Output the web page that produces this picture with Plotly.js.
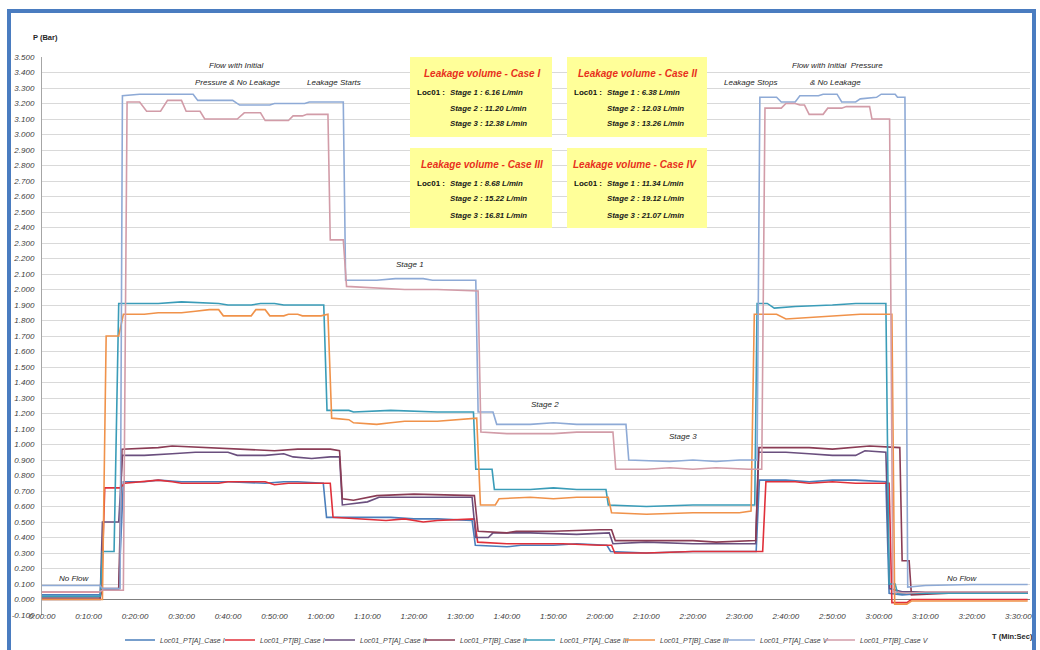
<!DOCTYPE html>
<html>
<head>
<meta charset="utf-8">
<script src="https://cdn.plot.ly/plotly-3.0.1.min.js"></script>
<style>
  html, body { margin: 0; padding: 0; background: #ffffff; overflow: hidden; }
  #chart { width: 1040px; height: 650px; }
  #frame { position: absolute; left: 7px; top: 9px; width: 1021px; height: 700px;
           border: 4px solid #4a7cc0; pointer-events: none; }
</style>
</head>
<body>
<div id="chart"></div>
<div id="frame"></div>
<script>
// ---- time axis (minutes) tick labels ----
const xTickVals = [0,10,20,30,40,50,60,70,80,90,100,110,120,130,140,150,160,170,180,190,200,210];
const xTickText = ["0:00:00","0:10:00","0:20:00","0:30:00","0:40:00","0:50:00","1:00:00","1:10:00","1:20:00","1:30:00","1:40:00","1:50:00","2:00:00","2:10:00","2:20:00","2:30:00","2:40:00","2:50:00","3:00:00","3:10:00","3:20:00","3:30:00"];
const yTickVals = [-0.1,0,0.1,0.2,0.3,0.4,0.5,0.6,0.7,0.8,0.9,1.0,1.1,1.2,1.3,1.4,1.5,1.6,1.7,1.8,1.9,2.0,2.1,2.2,2.3,2.4,2.5,2.6,2.7,2.8,2.9,3.0,3.1,3.2,3.3,3.4,3.5];
const yTickText = ["-0.100","0.000","0.100","0.200","0.300","0.400","0.500","0.600","0.700","0.800","0.900","1.000","1.100","1.200","1.300","1.400","1.500","1.600","1.700","1.800","1.900","2.000","2.100","2.200","2.300","2.400","2.500","2.600","2.700","2.800","2.900","3.000","3.100","3.200","3.300","3.400","3.500"];

// ---- series names ----
const seriesNames = ["Loc01_PT[A]_Case I","Loc01_PT[B]_Case I","Loc01_PT[A]_Case II","Loc01_PT[B]_Case II","Loc01_PT[A]_Case III","Loc01_PT[B]_Case III","Loc01_PT[A]_Case V","Loc01_PT[B]_Case V"];

// ---- Case I ----
const caseI_A_t = [0,12.5,13,16.5,17.5,22,25,30,35,40,48,52,55,60.5,61.2,70,75,80,85,92.5,93.2,100,103,110,115,121.5,122.3,130,140,150,153.6,154.3,160,165,170,175,181.5,182.2,185,190,212];
const caseI_A_p = [0.03,0.03,0.06,0.07,0.76,0.76,0.77,0.76,0.76,0.76,0.75,0.76,0.76,0.75,0.53,0.53,0.53,0.52,0.52,0.51,0.35,0.34,0.35,0.35,0.36,0.35,0.31,0.30,0.31,0.31,0.31,0.77,0.77,0.76,0.77,0.77,0.76,0.04,0.03,0.04,0.04];
const caseI_B_t = [0,12.8,13.5,16.8,17.8,22,25,28,30,38,40,48,50,53,58,62,62.6,70,74,78,82,85,93,93.7,100,105,112,120,122.5,123.2,130,140,150,155,155.7,162,165,170,175,182.2,182.8,186,187,212];
const caseI_B_p = [0.05,0.05,0.72,0.72,0.75,0.76,0.77,0.76,0.75,0.75,0.76,0.76,0.74,0.75,0.75,0.75,0.53,0.52,0.51,0.52,0.50,0.51,0.52,0.37,0.36,0.36,0.36,0.35,0.35,0.30,0.30,0.31,0.31,0.31,0.76,0.76,0.75,0.76,0.75,0.75,-0.02,-0.02,0.0,0.0];

// ---- Case II ----
const caseII_A_t = [0,12.5,13,16.5,17.3,22,28,33,40,42,48,52,54,58,62,64,64.6,70,72.5,80,90,92.5,93.3,96,97,105,115,120,122,122.8,130,140,150,153.5,154.1,160,165,170,175,177,181.5,182.3,185,190,212];
const caseII_A_p = [0.0,0.0,0.5,0.5,0.93,0.93,0.94,0.95,0.95,0.93,0.93,0.94,0.92,0.91,0.92,0.92,0.61,0.63,0.66,0.66,0.66,0.66,0.40,0.40,0.43,0.43,0.42,0.43,0.43,0.36,0.37,0.36,0.36,0.36,0.95,0.95,0.94,0.93,0.93,0.96,0.95,0.07,0.05,0.05,0.05];
const caseII_B_t = [0,12.5,13,16.5,17.2,25,28,35,45,50,55,62,64,64.6,67,72,80,90,93,93.8,100,102,110,120,122.5,123.3,130,140,145,153.5,154.2,165,170,175,178,184.5,185,186.5,187,195,212];
const caseII_B_p = [0.01,0.01,0.07,0.07,0.97,0.98,0.99,0.98,0.97,0.96,0.97,0.97,0.96,0.65,0.64,0.67,0.68,0.67,0.67,0.44,0.43,0.44,0.44,0.45,0.45,0.38,0.38,0.38,0.37,0.38,0.98,0.98,0.97,0.98,0.99,0.98,0.25,0.25,0.03,0.04,0.04];

// ---- Case III ----
const caseIII_A_t = [0,12.5,13,15.5,16.5,25,30,38,40,45,47,50,52,60.6,61.3,66,67,75,85,92.8,93.3,96.8,97.3,105,110,115,121.3,121.8,130,140,150,153.3,153.8,156,157.5,162,170,175,181.5,182.2,183.5,184,190,212];
const caseIII_A_p = [0.02,0.02,0.31,0.31,1.91,1.91,1.92,1.91,1.90,1.90,1.91,1.91,1.90,1.90,1.22,1.22,1.21,1.22,1.21,1.21,0.84,0.84,0.71,0.71,0.72,0.71,0.71,0.61,0.60,0.61,0.61,0.61,1.91,1.91,1.88,1.89,1.90,1.91,1.91,0.10,0.10,0.04,0.04,0.04];
const caseIII_B_t = [0,13,13.8,16.5,17.5,22,25,30,33,36,38,39,45,46,48,49,52,53,55,56,60,61.5,62.3,66,67,72,75,78,85,90,93.5,94.3,97.5,98.3,105,110,115,121.8,122.5,130,140,150,152.5,153.2,158,160,165,170,176,182.8,183.4,186,187,212];
const caseIII_B_p = [0.0,0.0,1.70,1.70,1.84,1.84,1.85,1.85,1.86,1.87,1.87,1.83,1.83,1.87,1.87,1.83,1.83,1.84,1.84,1.83,1.83,1.84,1.17,1.16,1.14,1.13,1.14,1.15,1.15,1.16,1.17,0.61,0.61,0.65,0.66,0.65,0.66,0.66,0.56,0.55,0.56,0.56,0.57,1.84,1.84,1.81,1.82,1.83,1.84,1.84,-0.03,-0.03,-0.01,-0.01];

// ---- Case V ----
const caseV_A_t = [0,12.5,13,16.8,17.3,21,26,32.5,33.5,41,42.5,49,50,56.5,57.5,64.8,65.3,72,76,82,84,93.3,93.8,97,97.8,105,110,115,125.6,126.2,135,140,145,150,153.8,154.4,158,159,162,163,167,168,171,172,175,176,179.5,180.5,183.5,184,185.6,186.2,190,200,212];
const caseV_A_p = [0.09,0.09,0.07,0.07,3.25,3.26,3.26,3.26,3.22,3.22,3.19,3.19,3.20,3.20,3.21,3.21,2.06,2.06,2.07,2.07,2.06,2.06,1.21,1.21,1.13,1.13,1.14,1.13,1.13,0.90,0.89,0.90,0.89,0.90,0.90,3.24,3.24,3.21,3.21,3.25,3.25,3.26,3.26,3.21,3.21,3.23,3.24,3.26,3.26,3.24,3.24,0.08,0.09,0.097,0.097];
const caseV_B_t = [0,12.5,13,17.5,18.3,21,22.5,25.5,27,30,31,34,35,42,43.5,47,48,53,54,56,57,61.5,62,64.8,65.5,72,78,85,93.8,94.4,100,110,115,122.8,123.4,130,135,140,145,152,154.8,155.5,159,160,162,163,164,165,168,169,172,173,178,178.5,182.3,183,186,190,212];
const caseV_B_p = [0.05,0.05,0.06,0.06,3.21,3.21,3.15,3.15,3.22,3.22,3.15,3.15,3.10,3.10,3.14,3.14,3.09,3.09,3.12,3.12,3.13,3.13,2.32,2.32,2.02,2.01,2.00,2.00,1.99,1.08,1.07,1.07,1.08,1.08,0.84,0.84,0.85,0.84,0.85,0.84,0.84,3.17,3.17,3.20,3.20,3.19,3.19,3.13,3.13,3.17,3.17,3.18,3.18,3.10,3.10,0.05,0.04,0.05,0.05];

const seriesT = [caseI_A_t, caseI_B_t, caseII_A_t, caseII_B_t, caseIII_A_t, caseIII_B_t, caseV_A_t, caseV_B_t];
const seriesP = [caseI_A_p, caseI_B_p, caseII_A_p, caseII_B_p, caseIII_A_p, caseIII_B_p, caseV_A_p, caseV_B_p];
const seriesColors = ["#4a7ebb","#e0303a","#6a4f7e","#8a3c55","#3a9cb8","#f0924a","#8eaad6","#d29ca8"];

// ---- leakage boxes ----
const boxTitles = ["Leakage volume - Case I","Leakage volume - Case II","Leakage volume - Case III","Leakage volume - Case IV"];
const boxStage1 = ["Stage 1 : 6.16 L/min","Stage 1 : 6.38 L/min","Stage 1 : 8.68 L/min","Stage 1 : 11.34 L/min"];
const boxStage2 = ["Stage 2 : 11.20 L/min","Stage 2 : 12.03 L/min","Stage 2 : 15.22 L/min","Stage 2 : 19.12 L/min"];
const boxStage3 = ["Stage 3 : 12.38 L/min","Stage 3 : 13.26 L/min","Stage 3 : 16.81 L/min","Stage 3 : 21.07 L/min"];

// ---- layout helpers (pixel -> paper) ----
const L = 42, R = 10, T = 57, B = 35, W = 1040, H = 650;
const PW = W - L - R, PH = H - T - B;
const px = x => (x - L) / PW;
const py = y => (H - B - y) / PH;

const FONT = "Liberation Sans, Arial, sans-serif";
const legendFont = { family: FONT, size: 7, color: "#404040", style: "italic" };

const traces = seriesNames.map((n, i) => ({
  type: "scatter", mode: "lines", name: n,
  x: seriesT[i], y: seriesP[i],
  line: { color: seriesColors[i], width: 1.6 },
  legend: i === 0 ? "legend" : "legend" + (i + 1),
  hoverinfo: "skip"
}));

const shapes = [];
const annotations = [];
const boxX = [[410,552],[567,707],[410,552],[567,707]];
const boxY = [[57,137],[57,137],[148,228],[148,228]];
const titleCx = [482, 637, 482, 635];
for (let i = 0; i < 4; i++) {
  shapes.push({ type: "rect", xref: "paper", yref: "paper", layer: "above",
    x0: px(boxX[i][0]), x1: px(boxX[i][1]), y0: py(boxY[i][1]), y1: py(boxY[i][0]),
    fillcolor: "#ffff99", line: { width: 0 } });
  const top = boxY[i][0];
  annotations.push({ xref: "paper", yref: "paper", x: px(titleCx[i]), y: py(top + 16), text: boxTitles[i],
    showarrow: false, xanchor: "center", yanchor: "middle",
    font: { family: FONT, size: 10, color: "#e8301c", weight: "bold", style: "italic" } });
  annotations.push({ xref: "paper", yref: "paper", x: px(boxX[i][0] + 5), y: py(top + 35), text: "Loc01 :",
    showarrow: false, xanchor: "left", yanchor: "middle",
    font: { family: FONT, size: 8, color: "#111111", weight: "bold" } });
  const sx = boxX[i][0] + 38;
  [boxStage1[i], boxStage2[i], boxStage3[i]].forEach((s, k) => {
    annotations.push({ xref: "paper", yref: "paper", x: px(sx), y: py(top + 35 + 16 * k), text: s,
      showarrow: false, xanchor: "left", yanchor: "middle",
      font: { family: FONT, size: 7.8, color: "#1a1a1a", weight: "bold", style: "italic" } });
  });
}

const noteFont = { family: FONT, size: 8, color: "#262626", style: "italic" };
const notes = [
  ["Flow with Initial", 236, 65],
  ["Pressure & No Leakage", 237, 82],
  ["Leakage Starts", 334, 82],
  ["Leakage Stops", 750, 82],
  ["Flow with Initial  Pressure", 837, 65],
  ["& No Leakage", 835, 82],
  ["Stage 1", 410, 264],
  ["Stage 2", 545, 404],
  ["Stage 3", 683, 436],
  ["No Flow", 74, 578],
  ["No Flow", 962, 578]
];
notes.forEach(n => annotations.push({ xref: "paper", yref: "paper", x: px(n[1]), y: py(n[2]),
  text: n[0], showarrow: false, xanchor: "center", yanchor: "middle", font: noteFont }));

annotations.push({ xref: "paper", yref: "paper", x: px(45), y: py(37), text: "P (Bar)",
  showarrow: false, xanchor: "center", yanchor: "middle",
  font: { family: FONT, size: 7.5, color: "#262626", weight: "bold" } });
annotations.push({ xref: "paper", yref: "paper", x: px(1012), y: py(636), text: "T (Min:Sec)",
  showarrow: false, xanchor: "center", yanchor: "middle",
  font: { family: FONT, size: 7.5, color: "#262626", weight: "bold" } });

const layout = {
  width: W, height: H,
  margin: { l: L, r: R, t: T, b: B, autoexpand: false },
  paper_bgcolor: "#ffffff", plot_bgcolor: "#ffffff",
  showlegend: true,
  xaxis: {
    range: [0, 212.5], tickvals: xTickVals, ticktext: xTickText,
    showgrid: false, zeroline: false, showline: false, ticks: "",
    tickfont: { family: FONT, size: 8, color: "#404040", style: "italic" },
    ticklabelstandoff: -5, fixedrange: true, automargin: false
  },
  yaxis: {
    range: [-0.1, 3.5], tickvals: yTickVals, ticktext: yTickText,
    showgrid: true, gridcolor: "#d9d9d9", gridwidth: 1,
    zeroline: true, zerolinecolor: "#7f7f7f", zerolinewidth: 1.5,
    showline: true, linecolor: "#a6a6a6", linewidth: 1, ticks: "",
    tickfont: { family: FONT, size: 8, color: "#404040", style: "italic" },
    ticklabelstandoff: 5, fixedrange: true, automargin: false
  },
  shapes: shapes,
  annotations: annotations
};
// one legend per series, spaced like the reference's bottom legend row
seriesNames.forEach((n, i) => {
  const key = i === 0 ? "legend" : "legend" + (i + 1);
  layout[key] = { orientation: "h", x: px(120 + 100 * i), y: py(640), xanchor: "left", yanchor: "middle",
    font: legendFont, itemwidth: 30, bgcolor: "rgba(0,0,0,0)" };
});

Plotly.newPlot("chart", traces, layout, { displayModeBar: false, staticPlot: true });
</script>
</body>
</html>
